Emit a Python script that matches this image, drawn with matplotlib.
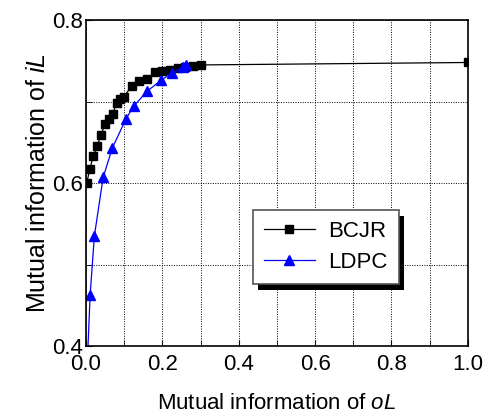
import numpy as np
import matplotlib
matplotlib.use('Agg')
from matplotlib import pyplot as plt
from matplotlib import patheffects
from matplotlib.ticker import MultipleLocator

# BCJR curve (black squares)
bcjr_x = [0.002, 0.010, 0.019, 0.030, 0.039, 0.050, 0.060, 0.070, 0.080, 0.089, 0.099,
          0.120, 0.140, 0.160, 0.181, 0.200, 0.220, 0.240, 0.260, 0.280, 0.300, 1.000]
bcjr_y = [0.600, 0.617, 0.633, 0.646, 0.659, 0.672, 0.679, 0.685, 0.698, 0.703, 0.706,
          0.719, 0.725, 0.728, 0.736, 0.738, 0.739, 0.741, 0.742, 0.744, 0.745, 0.748]

# LDPC curve (blue triangles)
ldpc_x = [0.004, 0.011, 0.022, 0.045, 0.069, 0.105, 0.126, 0.161, 0.196, 0.225, 0.253, 0.262]
ldpc_y = [0.385, 0.463, 0.535, 0.607, 0.643, 0.679, 0.695, 0.713, 0.726, 0.735, 0.742, 0.745]

plt.rcParams['font.family'] = ['Liberation Sans', 'DejaVu Sans']
plt.rcParams['mathtext.fontset'] = 'custom'
plt.rcParams['mathtext.rm'] = 'Liberation Sans'
plt.rcParams['mathtext.it'] = 'Liberation Sans:italic'

fig = plt.figure(figsize=(4.94, 4.19), dpi=100)
ax = fig.add_axes([0.174, 0.174, 0.773, 0.778])

ax.plot(bcjr_x, bcjr_y, color='black', lw=0.9, marker='s', ms=6, label='BCJR')
ax.plot(ldpc_x, ldpc_y, color='blue', lw=0.9, marker='^', ms=7, label='LDPC')

ax.set_xlim(0, 1)
ax.set_ylim(0.4, 0.8)
ax.xaxis.set_major_locator(MultipleLocator(0.2))
ax.xaxis.set_minor_locator(MultipleLocator(0.1))
ax.yaxis.set_major_locator(MultipleLocator(0.2))
ax.yaxis.set_minor_locator(MultipleLocator(0.1))
ax.grid(True, which='both', color='black', linestyle=(0, (1, 1.5)), lw=0.7)
ax.tick_params(which='both', direction='in', labelsize=16, length=4)
ax.tick_params(axis='x', pad=6)
ax.tick_params(axis='y', pad=2)
for s in ax.spines.values():
    s.set_linewidth(1.2)

ax.set_xlabel('Mutual information of $\\it{oL}$', fontsize=16, labelpad=13)
ax.set_ylabel('Mutual information of $\\it{iL}$', fontsize=18, labelpad=2)

leg = ax.legend(loc='upper left', bbox_to_anchor=(0.437, 0.417), fontsize=16,
                fancybox=False, edgecolor='#555555', framealpha=1,
                handlelength=2.3, handletextpad=0.6, borderpad=0.5,
                labelspacing=0.45, borderaxespad=0)
leg.get_frame().set_linewidth(1.2)
leg.get_frame().set_path_effects([
    patheffects.SimplePatchShadow(offset=(4, -4), shadow_rgbFace='black', alpha=1),
    patheffects.Normal()])

fig.savefig('out.png', dpi=100)
